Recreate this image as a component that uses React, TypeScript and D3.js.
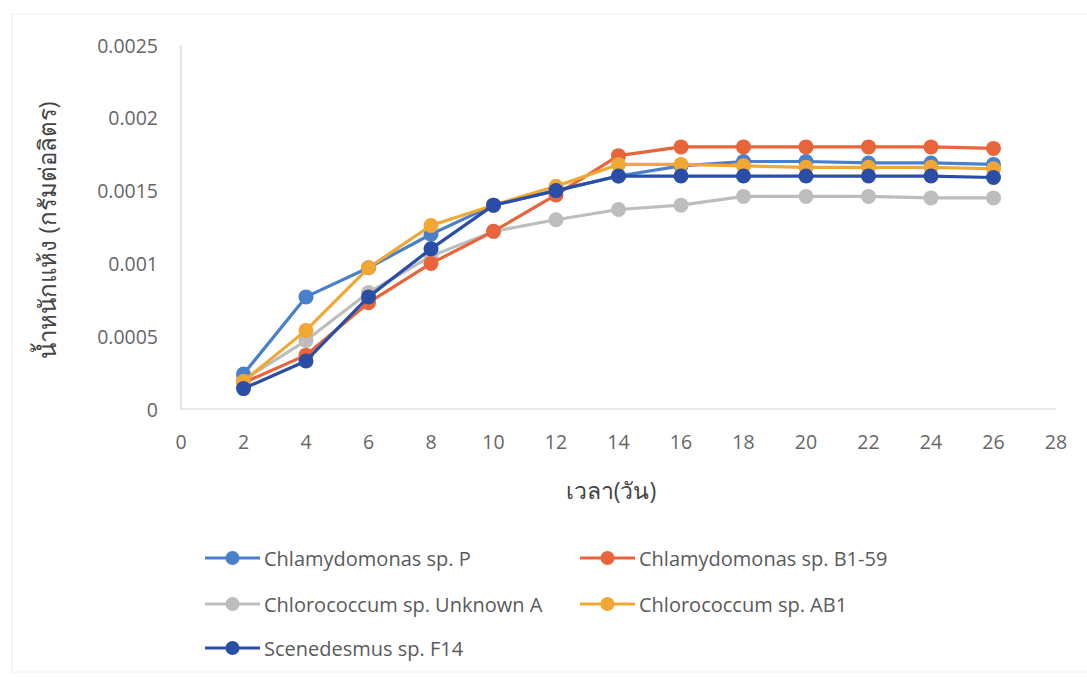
import React from "react";
import * as d3 from "d3";

const days = [2, 4, 6, 8, 10, 12, 14, 16, 18, 20, 22, 24, 26];
const chlamyP = [0.00024, 0.00077, 0.00097, 0.0012, 0.0014, 0.0015, 0.0016, 0.00167, 0.0017, 0.0017, 0.00169, 0.00169, 0.00168];
const chlamyB159 = [0.00018, 0.00037, 0.00073, 0.001, 0.00122, 0.00147, 0.00174, 0.0018, 0.0018, 0.0018, 0.0018, 0.0018, 0.00179];
const chloroA = [0.0002, 0.00047, 0.0008, 0.00105, 0.00122, 0.0013, 0.00137, 0.0014, 0.00146, 0.00146, 0.00146, 0.00145, 0.00145];
const chloroAB1 = [0.00019, 0.00054, 0.00097, 0.00126, 0.0014, 0.00153, 0.00168, 0.00168, 0.00167, 0.00166, 0.00166, 0.00166, 0.00165];
const scenF14 = [0.00014, 0.00033, 0.00077, 0.0011, 0.0014, 0.0015, 0.0016, 0.0016, 0.0016, 0.0016, 0.0016, 0.0016, 0.00159];

const xTicks = [0, 2, 4, 6, 8, 10, 12, 14, 16, 18, 20, 22, 24, 26, 28];
const yTicks = [0, 0.0005, 0.001, 0.0015, 0.002, 0.0025];
const yTickLabels = ["0", "0.0005", "0.001", "0.0015", "0.002", "0.0025"];

const seriesNames = [
  "Chlamydomonas sp. P",
  "Chlamydomonas sp. B1-59",
  "Chlorococcum sp. Unknown A",
  "Chlorococcum sp. AB1",
  "Scenedesmus sp. F14",
];
const seriesValues = [chlamyP, chlamyB159, chloroA, chloroAB1, scenF14];
const seriesColors = ["#4a7fcb", "#e8643a", "#bdbdbd", "#f0a733", "#2a4ea6"];
// drawing order (back to front)
const drawOrder = [2, 0, 1, 3, 4];

const xTitle = "เวลา(วัน)";
const yTitle = "น้ำหนักแห้ง (กรัมต่อลิตร)";

export default function App() {
  const W = 1087, H = 677;
  const x = d3.scaleLinear().domain([0, 28]).range([181, 1056]);
  const y = d3.scaleLinear().domain([0, 0.0025]).range([409, 45]);
  const line = d3.line<number>().x((_, i) => x(days[i])).y((v) => y(v));
  const font = "'Open Sans', 'Noto Sans', 'DejaVu Sans', sans-serif";
  const legendPos = [
    [205, 558], [580, 558], [205, 604], [580, 604], [205, 648],
  ];
  return (
    <svg width={W} height={H} style={{ position: "absolute", left: 0, top: 0, background: "#fff" }} fontFamily={font}>
      <rect x={12} y={14} width={1090} height={658} fill="none" stroke="#eeeeee" strokeWidth={1} />
      <line x1={x(0)} x2={x(0)} y1={y(0.0025)} y2={y(0)} stroke="#d4d4d4" strokeWidth={1.2} />
      <line x1={x(0)} x2={x(28)} y1={y(0)} y2={y(0)} stroke="#d4d4d4" strokeWidth={1.2} />
      {yTicks.map((t, i) => (
        <text key={"y" + i} x={158} y={y(t)} textAnchor="end" dominantBaseline="central" fontSize={19.5} fill="#666">
          {yTickLabels[i]}
        </text>
      ))}
      {xTicks.map((t) => (
        <text key={"x" + t} x={x(t)} y={441} textAnchor="middle" dominantBaseline="central" fontSize={19.5} fill="#666">
          {t}
        </text>
      ))}
      <text x={611} y={490} textAnchor="middle" dominantBaseline="central" fontSize={23} fill="#444">
        {xTitle}
      </text>
      <text transform={`translate(46,230) rotate(-90)`} textAnchor="middle" dominantBaseline="central" fontSize={24} fill="#444">
        {yTitle}
      </text>
      {drawOrder.map((si) => (
        <g key={"s" + si}>
          <path d={line(seriesValues[si]) || ""} fill="none" stroke={seriesColors[si]} strokeWidth={3.2} strokeLinejoin="round" />
          {seriesValues[si].map((v, i) => (
            <circle key={i} cx={x(days[i])} cy={y(v)} r={7.5} fill={seriesColors[si]} />
          ))}
        </g>
      ))}
      {seriesNames.map((n, i) => {
        const [lx, ly] = legendPos[i];
        return (
          <g key={"l" + i}>
            <line x1={lx} x2={lx + 55} y1={ly} y2={ly} stroke={seriesColors[i]} strokeWidth={3.2} />
            <circle cx={lx + 27.5} cy={ly} r={7} fill={seriesColors[i]} />
            <text x={lx + 59} y={ly} dominantBaseline="central" fontSize={20} fill="#5a5a5a">
              {n}
            </text>
          </g>
        );
      })}
    </svg>
  );
}
